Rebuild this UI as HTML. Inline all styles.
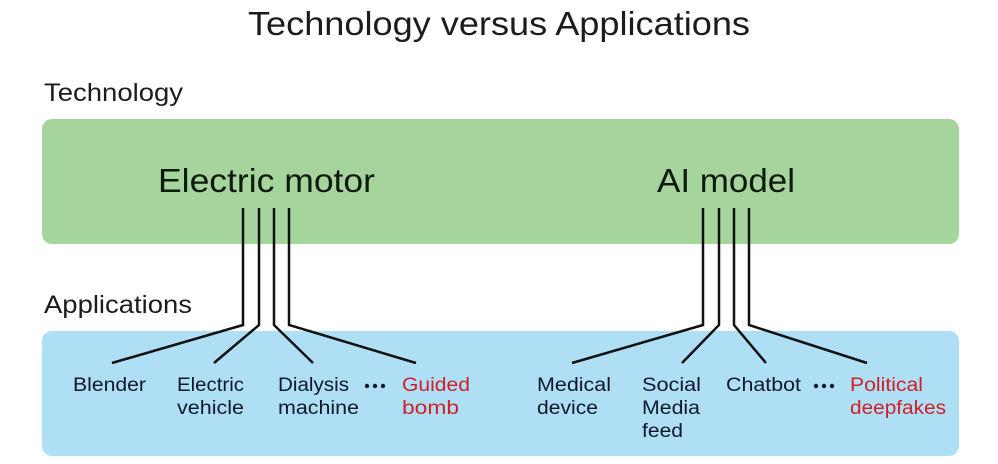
<!DOCTYPE html>
<html><head><meta charset="utf-8"><style>
html,body{margin:0;padding:0;background:#fff;}
svg{display:block;}
text{font-family:"Liberation Sans",sans-serif;}
</style></head><body>
<svg width="998" height="464" viewBox="0 0 998 464" xmlns="http://www.w3.org/2000/svg">
<rect x="0" y="0" width="998" height="464" fill="#fff"/>
<rect x="42" y="119" width="917" height="125" rx="10" fill="#a6d49d"/>
<rect x="42" y="331" width="917" height="125" rx="10" fill="#afdff5"/>
<g fill="#1c1c1c">
<text x="248" y="35" font-size="33" textLength="502" lengthAdjust="spacingAndGlyphs">Technology versus Applications</text>
<text x="44" y="101" font-size="25" textLength="139" lengthAdjust="spacingAndGlyphs">Technology</text>
<text x="44" y="313" font-size="25" textLength="148" lengthAdjust="spacingAndGlyphs">Applications</text>
</g>
<g fill="#0e1a0e">
<text x="158" y="192" font-size="33" textLength="217" lengthAdjust="spacingAndGlyphs">Electric motor</text>
<text x="657" y="192" font-size="33" textLength="138" lengthAdjust="spacingAndGlyphs">AI model</text>
</g>
<g fill="none" stroke="#111" stroke-width="2.5">
<polyline points="243,208 243,325 112,363"/>
<polyline points="259,208 259,325 214,363"/>
<polyline points="274,208 274,325 313,363"/>
<polyline points="289,208 289,325 416,363"/>
<polyline points="703,208 703,325 572,363"/>
<polyline points="719,208 719,325 682,363"/>
<polyline points="734,208 734,325 766,363"/>
<polyline points="749,208 749,325 867,363"/>
</g>
<g fill="#10182a" font-size="19">
<text x="73" y="391" textLength="73" lengthAdjust="spacingAndGlyphs">Blender</text>
<text x="177" y="391" textLength="67" lengthAdjust="spacingAndGlyphs">Electric</text>
<text x="177" y="414" textLength="67" lengthAdjust="spacingAndGlyphs">vehicle</text>
<text x="278" y="391" textLength="71" lengthAdjust="spacingAndGlyphs">Dialysis</text>
<text x="278" y="414" textLength="81" lengthAdjust="spacingAndGlyphs">machine</text>
<text x="537" y="391" textLength="74" lengthAdjust="spacingAndGlyphs">Medical</text>
<text x="537" y="414" textLength="61" lengthAdjust="spacingAndGlyphs">device</text>
<text x="642" y="391" textLength="59" lengthAdjust="spacingAndGlyphs">Social</text>
<text x="642" y="414" textLength="58" lengthAdjust="spacingAndGlyphs">Media</text>
<text x="642" y="437" textLength="41" lengthAdjust="spacingAndGlyphs">feed</text>
<text x="726" y="391" textLength="75" lengthAdjust="spacingAndGlyphs">Chatbot</text>
</g>
<g fill="#10182a">
<circle cx="367" cy="386" r="2.2"/><circle cx="375" cy="386" r="2.2"/><circle cx="383" cy="386" r="2.2"/>
<circle cx="816" cy="386" r="2.2"/><circle cx="824" cy="386" r="2.2"/><circle cx="832" cy="386" r="2.2"/>
</g>
<g fill="#d0202a" font-size="19">
<text x="402" y="391" textLength="68" lengthAdjust="spacingAndGlyphs">Guided</text>
<text x="402" y="414" textLength="57" lengthAdjust="spacingAndGlyphs">bomb</text>
<text x="850" y="391" textLength="73" lengthAdjust="spacingAndGlyphs">Political</text>
<text x="850" y="414" textLength="96" lengthAdjust="spacingAndGlyphs">deepfakes</text>
</g>
</svg>
</body></html>
